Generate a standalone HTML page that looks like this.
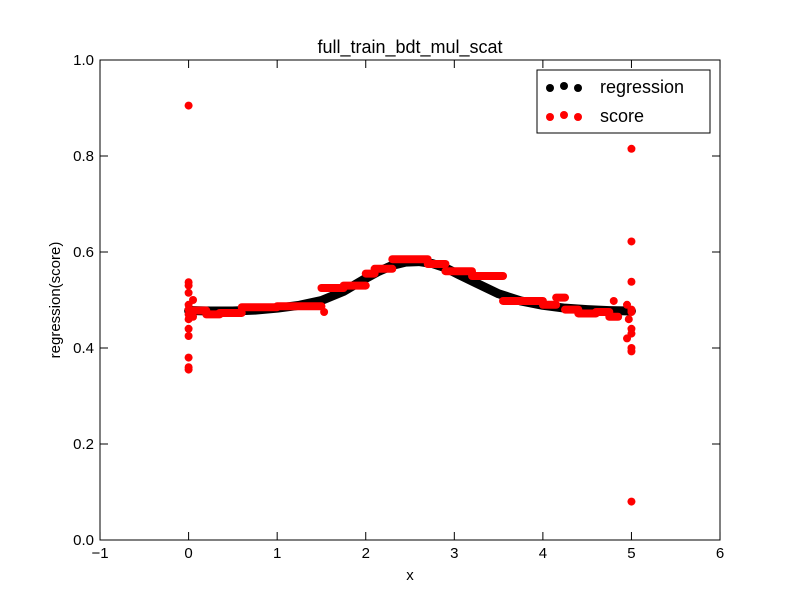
<!DOCTYPE html>
<html><head><meta charset="utf-8"><style>
body{margin:0;background:#fff;}
svg text{font-family:"Liberation Sans",sans-serif;}
</style></head><body>
<svg id="chart" width="800" height="600">
<rect width="800" height="600" fill="#fff"/>
<g id="marks"></g>
<g id="axes"></g>
<text x="410" y="53" font-size="18" text-anchor="middle">full_train_bdt_mul_scat</text>
<text x="410" y="580" font-size="15" text-anchor="middle">x</text>
<text x="60" y="300" font-size="15" text-anchor="middle" transform="rotate(-90 60 300)">regression(score)</text>
<g>
<rect x="537" y="70" width="173" height="63" fill="#fff" stroke="#000"/>
<g>
<circle cx="550" cy="88" r="4" fill="#000"/><circle cx="564" cy="86" r="4" fill="#000"/><circle cx="578" cy="88" r="4" fill="#000"/>
<text x="600" y="93" font-size="18">regression</text></g>
<g>
<circle cx="550" cy="117" r="4" fill="red"/><circle cx="564" cy="115" r="4" fill="red"/><circle cx="578" cy="117" r="4" fill="red"/>
<text x="600" y="122" font-size="18">score</text></g>
</g>
</svg>
<script>
const xTicks=[-1,0,1,2,3,4,5,6];
const yTicks=[0.0,0.2,0.4,0.6,0.8,1.0];
const regX=[0,0.25,0.5,0.75,1,1.25,1.5,1.75,2,2.15,2.3,2.45,2.6,2.75,2.9,3.05,3.25,3.5,3.75,4,4.25,4.5,4.75,5];
const regY=[0.478,0.477,0.477,0.479,0.483,0.489,0.499,0.518,0.545,0.560,0.572,0.579,0.580,0.576,0.567,0.553,0.535,0.513,0.498,0.489,0.483,0.480,0.478,0.477];
const stepStart=[0.05,0.2,0.35,0.6,1.0,1.5,1.75,2.0,2.1,2.3,2.7,2.9,3.2,3.55,4.0,4.15,4.25,4.4,4.6,4.75];
const stepEnd=[0.2,0.35,0.6,1.0,1.5,1.75,2.0,2.1,2.3,2.7,2.9,3.2,3.55,4.0,4.15,4.25,4.4,4.6,4.75,4.85];
const stepVal=[0.478,0.470,0.473,0.485,0.487,0.525,0.530,0.555,0.565,0.585,0.575,0.560,0.550,0.498,0.490,0.505,0.480,0.472,0.475,0.465];
const edgeX=[0,0,0,0,0,0,0,0,0,0,0,0,0,0.05,0.05,1.53,4.8,4.95,5,5,5,5,5,5,5,5,5,5,4.95,4.97];
const edgeY=[0.905,0.537,0.530,0.515,0.480,0.470,0.460,0.440,0.425,0.380,0.360,0.355,0.490,0.500,0.465,0.475,0.498,0.490,0.815,0.622,0.538,0.480,0.475,0.440,0.430,0.400,0.393,0.080,0.420,0.460];
const X=v=>188.6+(v)*88.57, Y=v=>540-v*480;
const NS="http://www.w3.org/2000/svg";
const marks=document.getElementById('marks'), axes=document.getElementById('axes');
function mk(tag,a,p){const e=document.createElementNS(NS,tag);for(const k in a)e.setAttribute(k,a[k]);p.appendChild(e);return e;}
let d=regX.map((x,i)=>(i?'L':'M')+X(x)+' '+Y(regY[i])).join(' ');
const rl=mk('path',{d:d,stroke:'#000','stroke-width':9,fill:'none','stroke-linejoin':'round','stroke-linecap':'round'},marks);


for(let i=0;i<stepStart.length;i++){
  const g=mk('line',{x1:X(stepStart[i]),x2:X(stepEnd[i]),y1:Y(stepVal[i]),y2:Y(stepVal[i]),stroke:'red','stroke-width':8,'stroke-linecap':'round'},marks);
  
  
}
for(let i=0;i<edgeX.length;i++){
  const c=mk('circle',{cx:X(edgeX[i]),cy:Y(edgeY[i]),r:4,fill:'red'},marks);
  
  
}
const fr=mk('rect',{x:100,y:60,width:620,height:480,fill:'none',stroke:'#000'},axes);


xTicks.forEach(t=>{const x=X(t);
  mk('line',{x1:x,x2:x,y1:540,y2:532,stroke:'#000'},axes);
  mk('line',{x1:x,x2:x,y1:60,y2:68,stroke:'#000'},axes);
  const tx=mk('text',{x:x,y:558,'font-size':15,'text-anchor':'middle'},axes);tx.textContent=String(t).replace('-','\u2212');
  
  
});
yTicks.forEach(t=>{const y=Y(t);
  mk('line',{x1:100,x2:108,y1:y,y2:y,stroke:'#000'},axes);
  mk('line',{x1:720,x2:712,y1:y,y2:y,stroke:'#000'},axes);
  const tx=mk('text',{x:94,y:y+5,'font-size':15,'text-anchor':'end'},axes);tx.textContent=t.toFixed(1);
  
  
});
</script>
</body></html>
